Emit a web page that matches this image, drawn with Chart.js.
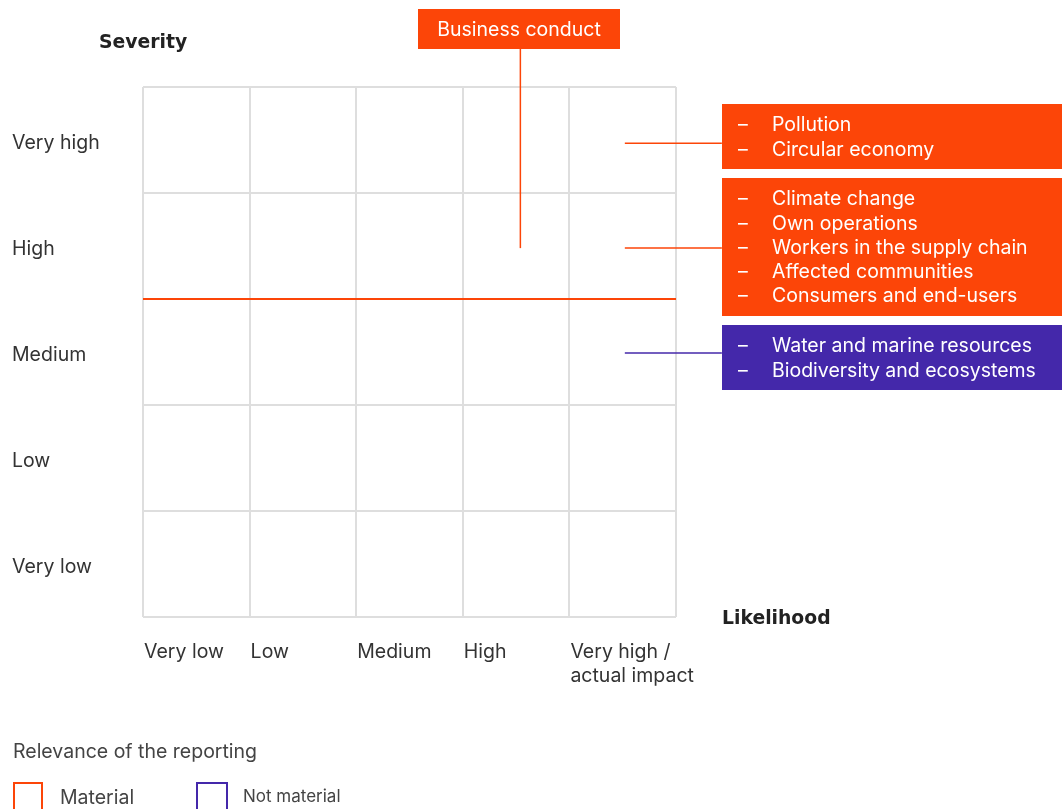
<!DOCTYPE html>
<html>
<head>
<meta charset="utf-8">
<script src="https://cdn.jsdelivr.net/npm/chart.js@4.4.1/dist/chart.umd.min.js"></script>
<style>
  html, body { margin: 0; padding: 0; background: #fff; }
  #wrap { width: 1062px; height: 809px; }
</style>
</head>
<body>
<div id="wrap"><canvas id="matrix" width="1062" height="809"></canvas></div>
<script>
// Axes de la matrice
const severityLabels = ['Very low', 'Low', 'Medium', 'High', 'Very high'];
const likelihoodLabels = [['Very low'], ['Low'], ['Medium'], ['High'], ['Very high /', 'actual impact']];

// Seuil de matérialité (entre Medium et High)
const thresholdLine = [{ x: 0, y: 3 }, { x: 5, y: 3 }];

// Business conduct : trait vertical vers la boîte du haut
const businessLine = [{ x: 3.54, y: 3.48 }, { x: 3.54, y: 5.36 }];

// Groupes de thèmes à droite
const groupY = [4.47, 3.48, 2.49];
const groupColors = ['#FC4508', '#FC4508', '#4428AA'];
const groupItems = [
  ['Pollution', 'Circular economy'],
  ['Climate change', 'Own operations', 'Workers in the supply chain', 'Affected communities', 'Consumers and end-users'],
  ['Water and marine resources', 'Biodiversity and ecosystems']
];
const connectorStart = 4.52;
const connectorEnd = 5.43;

const ORANGE = '#FC4508';
const PURPLE = '#4428AA';
const FONT = 'Inter, "DejaVu Sans", sans-serif';

const connectorSets = groupY.map((y, i) => ({
  data: [{ x: connectorStart, y: y }, { x: connectorEnd, y: y }],
  borderColor: groupColors[i],
  borderWidth: 1.5,
  pointRadius: 0,
  showLine: true,
  clip: false
}));

const overlay = {
  id: 'overlay',
  afterDatasetsDraw(chart) {
    const { ctx, scales: { x, y }, chartArea } = chart;
    ctx.save();
    ctx.textBaseline = 'middle';

    // libellés de sévérité
    ctx.font = '19.5px ' + FONT;
    ctx.fillStyle = '#333';
    ctx.textAlign = 'left';
    severityLabels.forEach((lab, i) => {
      ctx.fillText(lab, 12, y.getPixelForValue(i + 0.5) + 3);
    });

    // libellés de probabilité
    likelihoodLabels.forEach((lines, i) => {
      lines.forEach((l, j) => {
        ctx.fillText(l, x.getPixelForValue(i) + 1, chartArea.bottom + 35 + j * 24);
      });
    });

    // titres d'axes
    ctx.font = 'bold 18.8px "DejaVu Sans", sans-serif';
    ctx.fillStyle = '#222';
    ctx.fillText('Severity', 99, 43);
    ctx.fillText('Likelihood', 722, 619);

    // boîte Business conduct
    ctx.fillStyle = ORANGE;
    ctx.fillRect(418, 9, 202, 40);
    ctx.fillStyle = '#fff';
    ctx.font = '19.5px ' + FONT;
    ctx.textAlign = 'center';
    ctx.fillText('Business conduct', 519, 30);

    // boîtes de groupes
    ctx.textAlign = 'left';
    const boxes = [[104, 169], [178, 316], [325, 390]];
    boxes.forEach((b, i) => {
      ctx.fillStyle = groupColors[i];
      ctx.fillRect(722, b[0], 340, b[1] - b[0]);
      ctx.fillStyle = '#fff';
      const n = groupItems[i].length;
      const top = (b[0] + b[1]) / 2 - (n - 1) * 24.3 / 2 + 1;
      groupItems[i].forEach((t, j) => {
        ctx.fillText('–', 738, top + j * 24.3);
        ctx.fillText(t, 772, top + j * 24.3);
      });
    });

    // légende
    ctx.fillStyle = '#444';
    ctx.font = '19.5px ' + FONT;
    ctx.fillText('Relevance of the reporting', 13, 752);
    ctx.fillText('Material', 60, 798);
    ctx.font = '17px ' + FONT;
    ctx.fillText('Not material', 243, 797);
    ctx.lineWidth = 2;
    ctx.strokeStyle = ORANGE;
    ctx.strokeRect(14, 783, 28, 30);
    ctx.strokeStyle = PURPLE;
    ctx.strokeRect(197, 783, 30, 30);
    ctx.restore();
  }
};

new Chart(document.getElementById('matrix').getContext('2d'), {
  type: 'scatter',
  data: {
    datasets: [
      {
        data: thresholdLine,
        borderColor: ORANGE,
        borderWidth: 2,
        pointRadius: 0,
        showLine: true
      },
      {
        data: businessLine,
        borderColor: ORANGE,
        borderWidth: 1.5,
        pointRadius: 0,
        showLine: true,
        clip: false
      },
      ...connectorSets
    ]
  },
  options: {
    responsive: false,
    animation: false,
    layout: {
      padding: { left: 143, right: 386, top: 87, bottom: 192 }
    },
    plugins: {
      legend: { display: false },
      tooltip: { enabled: false }
    },
    scales: {
      x: {
        type: 'linear',
        min: 0,
        max: 5,
        ticks: { display: false, stepSize: 1 },
        grid: { color: '#dedede', lineWidth: 2, drawTicks: false },
        border: { display: false }
      },
      y: {
        type: 'linear',
        min: 0,
        max: 5,
        ticks: { display: false, stepSize: 1 },
        grid: { color: '#dedede', lineWidth: 2, drawTicks: false },
        border: { display: false }
      }
    }
  },
  plugins: [overlay]
});
</script>
</body>
</html>
